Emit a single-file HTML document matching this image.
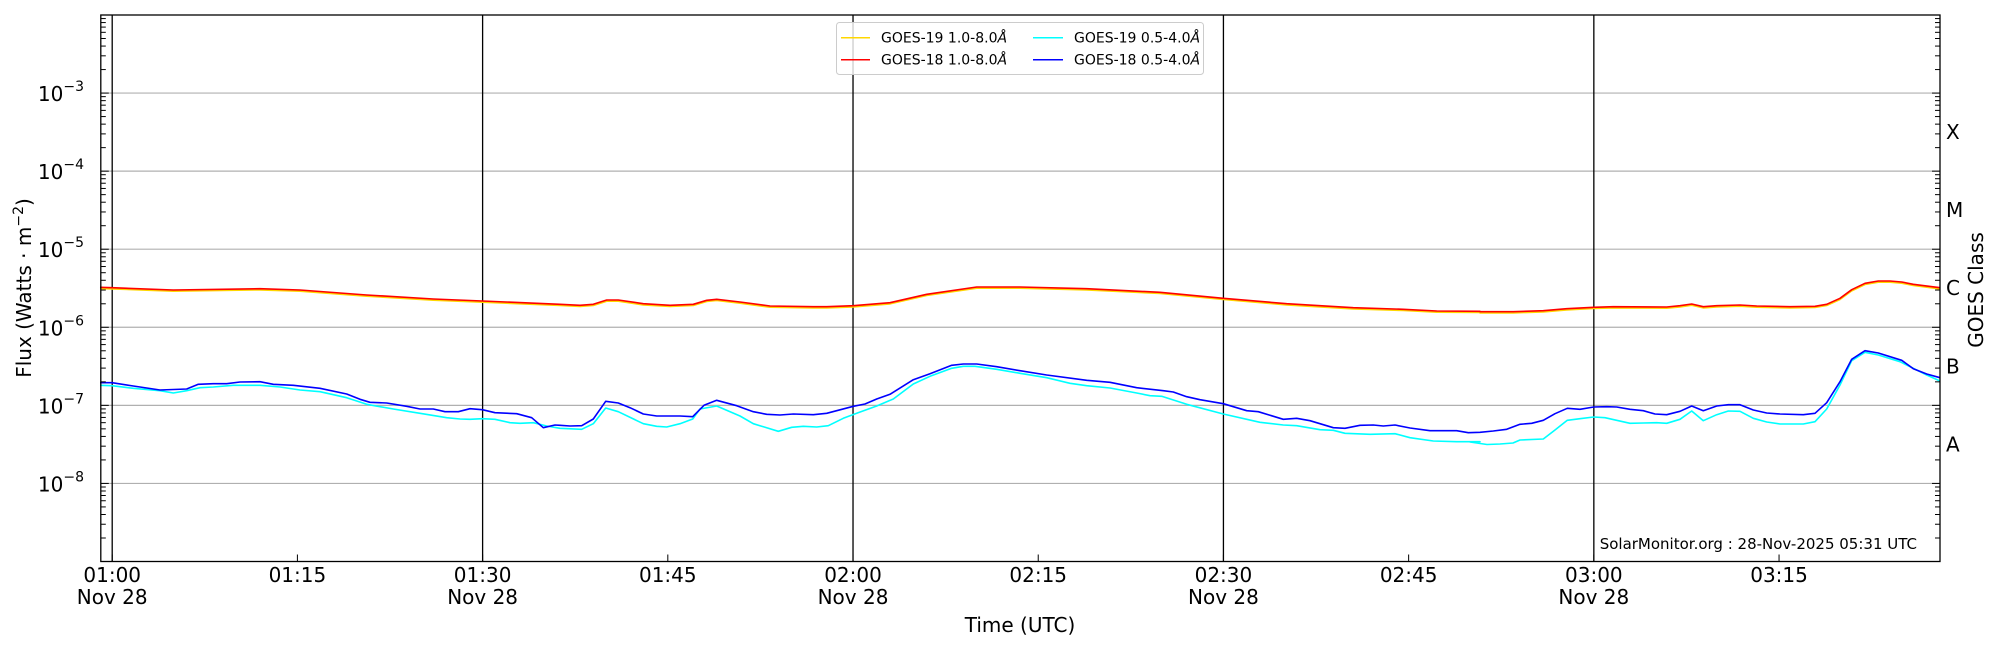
<!DOCTYPE html>
<html><head><meta charset="utf-8"><style>
html,body{margin:0;padding:0;background:#fff}
svg{display:block;font-family:"DejaVu Sans","Liberation Sans",sans-serif}
</style></head><body>
<svg id="s" width="2000" height="650" viewBox="0 0 2000 650" xmlns="http://www.w3.org/2000/svg">
<rect width="2000" height="650" fill="#fff"/>
<g id="grid"></g>
<g id="data" fill="none" stroke-linejoin="round"></g>
<g id="axes"></g>
<g id="legend">
<rect x="836.5" y="22.5" width="367" height="52" rx="3" fill="#fff" fill-opacity="0.8" stroke="#ccc"/>
<line x1="841" y1="37.7" x2="870" y2="37.7" stroke="#ffd700" stroke-width="1.5"/>
<text x="881" y="42.5" font-size="14">GOES-19 1.0-8.0<tspan font-style="italic">Å</tspan></text>
<line x1="841" y1="59.7" x2="870" y2="59.7" stroke="#ff0000" stroke-width="1.5"/>
<text x="881" y="64.5" font-size="14">GOES-18 1.0-8.0<tspan font-style="italic">Å</tspan></text>
<line x1="1033" y1="37.7" x2="1063" y2="37.7" stroke="#00ffff" stroke-width="1.5"/>
<text x="1074" y="42.5" font-size="14">GOES-19 0.5-4.0<tspan font-style="italic">Å</tspan></text>
<line x1="1033" y1="59.7" x2="1063" y2="59.7" stroke="#0000ff" stroke-width="1.5"/>
<text x="1074" y="64.5" font-size="14">GOES-18 0.5-4.0<tspan font-style="italic">Å</tspan></text>
</g>
<text x="1917" y="549" font-size="15" text-anchor="end">SolarMonitor.org : 28-Nov-2025 05:31 UTC</text>
<text x="1020" y="632" font-size="20" text-anchor="middle">Time (UTC)</text>
<text transform="translate(31,288) rotate(-90)" font-size="20" text-anchor="middle">Flux (Watts · m<tspan dy="-8" font-size="14">−2</tspan><tspan dy="8">)</tspan></text>
<text transform="translate(1983,290) rotate(-90)" font-size="20" text-anchor="middle">GOES Class</text>
</svg>
<script>
var NS="http://www.w3.org/2000/svg";
function el(p,n,a,t){var e=document.createElementNS(NS,n);for(var k in a)e.setAttribute(k,a[k]);if(t!=null)e.textContent=t;p.appendChild(e);return e;}
var L=100.8,R=1940,T=15,B=561.5,D=78.07;
function Y(e){return T+(-2-e)*D;}
function X(m){return 112.2+m*12.347;}
var grid=document.getElementById('grid'),axes=document.getElementById('axes'),data=document.getElementById('data');
for(var e=-3;e>=-8;e--){var y=Y(e);el(grid,'line',{x1:L,x2:R,y1:y,y2:y,stroke:'#b0b0b0','stroke-width':1.2});}
[0,30,60,90,120].forEach(function(m){var x=X(m);el(grid,'line',{x1:x,x2:x,y1:T,y2:B,stroke:'#000','stroke-width':1.3});});
function conv(ox,pts){return pts.map(function(p){return [ox+p[0]/3,265+p[1]/3];});}
var red=[].concat(
conv(100,[[0,67],[36,68],[220,75],[480,71],[600,75],[800,90],[1000,102],[1147,108],[1380,118]]),
conv(560,[[0,118],[60,121],[100,118],[140,105],[175,105],[250,116],[330,121],[400,118],[440,106],[470,103],[540,111],[630,123],[760,125],[800,125],[880,122],[990,113],[1100,88],[1250,66],[1380,66]]),
conv(1020,[[0,66],[200,71],[420,82],[610,100],[800,116],[1000,128],[1150,133],[1250,138],[1380,139]]),
conv(1480,[[0,140],[100,140],[190,137],[260,131],[341,127],[400,125],[560,126],[600,122],[635,117],[670,125],[710,122],[780,120],[830,123],[930,125],[1005,124],[1040,118],[1080,100],[1115,74],[1155,55],[1195,48],[1230,48],[1265,51],[1300,58],[1380,68]]));
var blue=[].concat(
conv(100,[[0,353],[36,353],[100,363],[180,375],[260,372],[295,358],[340,356],[380,356],[420,351],[480,350],[520,358],[580,361],[660,370],[740,387],[780,403],[810,412],[860,414],[920,424],[960,432],[1000,432],[1035,440],[1075,440],[1110,431],[1147,434],[1185,443],[1250,446],[1295,458],[1330,488],[1365,480]]),
conv(560,[[0,481],[30,483],[65,482],[100,462],[137,409],[175,414],[210,428],[250,447],[290,453],[360,453],[398,455],[432,421],[470,406],[530,422],[580,440],[620,448],[660,450],[700,447],[760,449],[800,445],[880,424],[915,417],[950,402],[990,388],[1060,344],[1110,326],[1175,301],[1210,297],[1250,297],[1310,305]]),
conv(1020,[[0,317],[80,330],[200,346],[270,352],[350,368],[430,377],[460,381],[500,395],[540,404],[610,416],[680,437],[715,440],[790,463],[830,460],[870,467],[940,488],[975,490],[1020,481],[1060,480],[1090,483],[1125,480],[1170,489],[1230,497],[1310,497],[1345,503]]),
conv(1480,[[0,502],[40,498],[80,493],[120,478],[155,475],[190,466],[225,446],[262,430],[300,433],[341,426],[380,425],[410,426],[450,433],[490,437],[525,447],[560,449],[600,439],[635,423],[670,437],[710,423],[745,419],[780,419],[820,435],[860,444],[900,447],[970,449],[1005,445],[1040,413],[1080,350],[1115,283],[1155,257],[1195,264],[1265,286],[1300,311],[1340,327],[1380,338]]));
var cyan=[].concat(
conv(100,[[0,361],[36,362],[100,370],[180,377],[220,384],[260,377],[300,368],[340,366],[400,361],[480,361],[540,366],[600,375],[660,380],[740,398],[800,418],[880,432],[960,445],[1040,458],[1080,462],[1110,463],[1147,461],[1185,463],[1230,473],[1260,475],[1300,473],[1340,483]]),
conv(560,[[0,490],[65,493],[100,476],[137,429],[175,440],[250,476],[290,484],[320,486],[360,476],[398,462],[420,432],[470,423],[540,453],[580,476],[655,499],[695,487],[730,484],[770,486],[805,482],[850,460],[890,445],[950,423],[1000,402],[1060,357],[1110,334],[1175,310],[1210,304],[1245,304],[1310,313]]),
conv(1020,[[0,325],[80,338],[150,355],[200,362],[270,369],[350,384],[390,392],[425,394],[500,418],[610,447],[720,472],[790,480],[830,482],[900,494],[940,496],[975,505],[1050,508],[1125,506],[1170,518],[1240,528],[1310,530],[1380,530]]),
[[1470,442],[1487,444.5],[1500,444],[1513,443]],
conv(1480,[[120,525],[190,522],[225,495],[262,466],[300,461],[341,456],[375,458],[450,475],[490,474],[530,473],[560,475],[600,463],[635,438],[670,467],[710,449],[745,438],[780,439],[820,460],[860,471],[900,477],[970,477],[1005,470],[1040,432],[1080,360],[1115,287],[1155,262],[1195,270],[1260,290],[1300,310],[1340,330],[1380,348]]));
function path(pts,dy){return 'M'+pts.map(function(p){return p[0].toFixed(1)+','+(p[1]+dy).toFixed(1);}).join('L');}
el(data,'path',{d:path(red,1.2),stroke:'#ffd700','stroke-width':1.6});
el(data,'path',{d:path(red,0),stroke:'#ff0000','stroke-width':1.6});
el(data,'path',{d:path(cyan,0),stroke:'#00ffff','stroke-width':1.6});
el(data,'path',{d:path(blue,0),stroke:'#0000ff','stroke-width':1.6});
el(axes,'rect',{x:L,y:T,width:R-L,height:B-T,fill:'none',stroke:'#000','stroke-width':1.3});
for(var e=-9;e<=-2;e++){
  var y=Y(e);
  if(e>-9&&e<-2){el(axes,'line',{x1:L,x2:L+8,y1:y,y2:y,stroke:'#000'});el(axes,'line',{x1:R,x2:R-8,y1:y,y2:y,stroke:'#000'});}
  if(e<-2)for(var k=2;k<=9;k++){var yy=y-Math.log10(k)*D;el(axes,'line',{x1:L,x2:L+5,y1:yy,y2:yy,stroke:'#000'});el(axes,'line',{x1:R,x2:R-5,y1:yy,y2:yy,stroke:'#000'});}
}
for(var e=-3;e>=-8;e--){var y=Y(e);var t=el(axes,'text',{x:84,y:y+8,'font-size':20,'text-anchor':'end'});
 t.appendChild(document.createTextNode('10'));el(t,'tspan',{dy:-10,'font-size':14},'−'+(-e));}
[['X',-3.5],['M',-4.5],['C',-5.5],['B',-6.5],['A',-7.5]].forEach(function(c){el(axes,'text',{x:1946,y:Y(c[1])+7,'font-size':20},c[0]);});
for(var m=0;m<=135;m+=15){var x=X(m);el(axes,'line',{x1:x,x2:x,y1:B,y2:B-7,stroke:'#000'});
 var lab=['01:00','01:15','01:30','01:45','02:00','02:15','02:30','02:45','03:00','03:15'][m/15];
 el(axes,'text',{x:x,y:582,'font-size':20,'text-anchor':'middle'},lab);
 if(m%30==0)el(axes,'text',{x:x,y:604,'font-size':20,'text-anchor':'middle'},'Nov 28');}
</script>
</body></html>
